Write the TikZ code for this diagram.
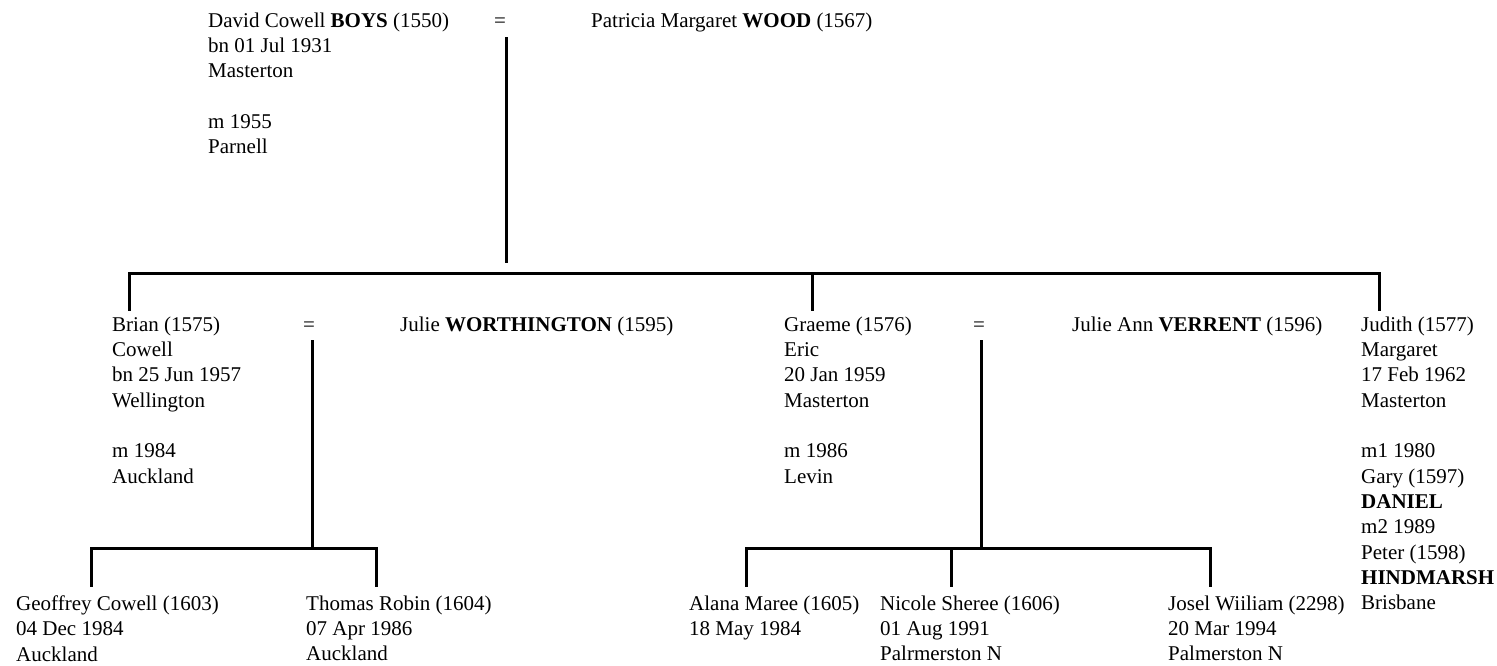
\documentclass[tikz,border=0pt]{standalone}
\usepackage{fontspec}
\setmainfont{Liberation Serif}
\usetikzlibrary{positioning}

\tikzset{
  person/.style={anchor=north west, yshift=20.2pt, align=left, inner sep=0pt, outer ysep=6pt},
  kid/.style={person, yshift=3pt, outer ysep=9pt},
  wed/.style={anchor=base, inner sep=0pt},
  famline/.style={line width=3pt}
}

\begin{document}
\begin{tikzpicture}[x=1pt, y=-1pt, font=\fontsize{21}{25.3}\selectfont]
  \useasboundingbox (0,0) rectangle (1497,665);

  % first generation
  \node[person] (david) at (208,27)
    {David Cowell \textbf{BOYS} (1550)\\bn 01 Jul 1931\\Masterton\\[25.3pt]m 1955\\Parnell};
  \node[wed] (eq1) at (500,27) {=};
  \node[person] (patricia) at (591,27) {Patricia Margaret \textbf{WOOD} (1567)};

  % second generation
  \node[person] (brian) at (112,331)
    {Brian (1575)\\Cowell\\bn 25 Jun 1957\\Wellington\\[25.3pt]m 1984\\Auckland};
  \node[wed] (eq2) at (309,331) {=};
  \node[person] (worthington) at (400,331) {Julie \textbf{WORTHINGTON} (1595)};

  \node[person] (graeme) at (784,331)
    {Graeme (1576)\\Eric\\20 Jan 1959\\Masterton\\[25.3pt]m 1986\\Levin};
  \node[wed] (eq3) at (979,331) {=};
  \node[person] (verrent) at (1072,331) {Julie Ann \textbf{VERRENT} (1596)};

  \node[person] (judith) at (1361,331)
    {Judith (1577)\\Margaret\\17 Feb 1962\\Masterton\\[25.3pt]m1 1980\\Gary (1597)\\\textbf{DANIEL}\\m2 1989\\Peter (1598)\\\textbf{HINDMARSH}\\Brisbane};

  % third generation
  \node[kid] (geoffrey) at (16,610) {Geoffrey Cowell (1603)\\04 Dec 1984\\Auckland};
  \node[kid] (thomas) at (306,610) {Thomas Robin (1604)\\07 Apr 1986\\Auckland};
  \node[kid] (alana) at (689,610) {Alana Maree (1605)\\18 May 1984};
  \node[kid] (nicole) at (880,610) {Nicole Sheree (1606)\\01 Aug 1991\\Palrmerston N};
  \node[kid] (josel) at (1168,610) {Josel Wiiliam (2298)\\20 Mar 1994\\Palmerston N};

  % lines
  \coordinate (drop1) at (506,37);
  \coordinate (drop1end) at (506,263);
  \coordinate (bar1) at (129,273);
  \coordinate (bar2) at (812,273);
  \coordinate (bar3) at (1379,273);
  \draw[famline] (drop1) -- (drop1end);
  \draw[famline] (bar1 |- brian.north) -- (bar1) -- (bar3) -- (bar3 |- judith.north);
  \draw[famline] (bar2) -- (bar2 |- graeme.north);

  \coordinate (drop2) at (312,340);
  \coordinate (bar4) at (91,548);
  \coordinate (bar5) at (376,548);
  \draw[famline] (drop2) -- (drop2 |- bar4);
  \draw[famline] (bar4 |- geoffrey.north) -- (bar4) -- (bar5) -- (bar5 |- thomas.north);

  \coordinate (drop3) at (981,340);
  \coordinate (bar6) at (746,548);
  \coordinate (bar7) at (951,548);
  \coordinate (bar8) at (1210,548);
  \draw[famline] (drop3) -- (drop3 |- bar6);
  \draw[famline] (bar6 |- alana.north) -- (bar6) -- (bar8) -- (bar8 |- josel.north);
  \draw[famline] (bar7) -- (bar7 |- nicole.north);
\end{tikzpicture}
\end{document}
